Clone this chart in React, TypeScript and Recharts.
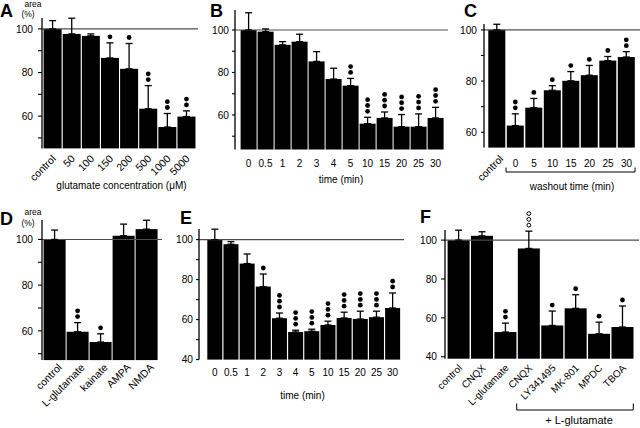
import { Bar, BarChart, ErrorBar, ReferenceLine, XAxis, YAxis } from "recharts";

const FONT = '"Liberation Sans", Arial, Helvetica, sans-serif';

// A: glutamate concentration
const concLabels = ["control", "50", "100", "150", "200", "500", "1000", "5000"];
const concArea = [100, 97.7, 96.8, 86.7, 81.7, 63.4, 55, 59.8];
const concErrTop = [103.8, 104.9, 97.7, 93.6, 93.3, 74, 61.2, 62.4];
const concSig = [0, 0, 0, 1, 1, 2, 2, 2];

// B: time course
const timeLabels = ["0", "0.5", "1", "2", "3", "4", "5", "10", "15", "20", "25", "30"];
const timeAreaB = [100, 99.2, 93, 94.5, 85.2, 76.9, 73.8, 55.9, 58.6, 54.5, 54.5, 58.6];
const timeErrTopB = [108.1, 100.5, 94.5, 98, 89.8, 82, 77.2, 58.9, 61.4, 60.2, 60.5, 63.6];
const timeSigB = [0, 0, 0, 0, 0, 0, 2, 3, 3, 3, 3, 3];

// C: washout
const washLabels = ["control", "0", "5", "10", "15", "20", "25", "30"];
const washArea = [100, 62.6, 69.6, 76.4, 80.1, 82.3, 88, 89.4];
const washErrTop = [102.2, 67.2, 73.2, 78.2, 83.7, 86.1, 89.6, 91.5];
const washSig = [0, 2, 1, 1, 1, 1, 1, 2];

// D: agonists
const agonistLabels = ["control", "L-glutamate", "kainate", "AMPA", "NMDA"];
const agonistArea = [100, 59.6, 55.1, 101.6, 104.5];
const agonistErrTop = [104.1, 63.6, 58.7, 106.7, 108.4];
const agonistSig = [0, 2, 1, 0, 0];

// E: time course (second series)
const timeAreaE = [100, 97.7, 88, 76.5, 60.7, 53.8, 54.2, 57.3, 60.8, 60.3, 61.2, 65.8];
const timeErrTopE = [105.2, 99, 92.8, 82.8, 63.3, 54.7, 55.2, 59.2, 63.7, 64.2, 64.2, 73.3];
const timeSigE = [0, 0, 0, 1, 3, 3, 3, 3, 3, 3, 3, 2];

// F: blockers
const blockerLabels = ["control", "CNQX", "L-glutamate", "CNQX", "LY341495", "MK-801", "MPDC", "TBOA"];
const blockerArea = [100, 102.2, 52.7, 95.7, 56.1, 64.9, 51.8, 55.3];
const blockerErrTop = [105.1, 104.3, 57.3, 104.6, 63.5, 71.9, 57.8, 66.1];
const blockerSig = [0, 0, 2, 3, 1, 1, 1, 1];
const blockerSigOpen = [false, false, false, true, false, false, false, false];

function Panel(p: any) {
  const rows = p.labels.map((name: string, i: number) => ({
    name,
    v: p.area[i],
    e: [0, p.errTop[i] - p.area[i]],
    sig: p.sig[i],
    open: p.open ? p.open[i] : false,
  }));
  const YW = 40;
  const TOP = 26;
  const XH = 66;
  const RIGHT = 2;
  const width = YW + (p.plotRight - p.axisX) + RIGHT;
  const height = TOP + (p.yBottom - p.yTop) + XH;

  const xTick = (t: any) => {
    const rot = p.rotAll || (p.rotFirst && t.index === 0);
    if (rot) {
      return (
        <text
          transform={`translate(${t.x + p.rotDx},${t.y + p.rotDy}) rotate(-45)`}
          textAnchor="end"
          fontSize={p.xFont ?? 10.5}
          fontFamily={FONT}
          fill="#000"
        >
          {t.payload.value}
        </text>
      );
    }
    return (
      <text x={t.x} y={t.y + p.flatDy} textAnchor="middle" fontSize={10} fontFamily={FONT} fill="#000">
        {t.payload.value}
      </text>
    );
  };

  const yTick = (t: any) =>
    p.shown.includes(t.payload.value) ? (
      <text x={t.x} y={t.y} dy="0.36em" textAnchor="end" fontSize={p.yFont ?? 10.2} fontFamily={FONT} fill="#000">
        {t.payload.value}
      </text>
    ) : (
      <g />
    );

  const barShape = (s: any) => {
    const { x, y, width: w, height: h, payload } = s;
    const ppu = h / (payload.v - p.domain[0]);
    const errY = y - payload.e[1] * ppu;
    const cx = x + w / 2;
    const dots = [];
    for (let i = 0; i < payload.sig; i++) {
      dots.push(
        <circle
          key={i}
          cx={cx}
          cy={errY - 6 - i * 5.8}
          r={payload.open ? 1.9 : 2.4}
          fill={payload.open ? "#fff" : "#000"}
          stroke="#000"
          strokeWidth={payload.open ? 1 : 0}
        />
      );
    }
    return (
      <g>
        <rect x={x} y={y} width={w} height={h} fill="#000" />
        {dots}
      </g>
    );
  };

  return (
    <div style={{ position: "absolute", left: p.axisX - YW, top: p.yTop - TOP }}>
      <BarChart
        width={width}
        height={height}
        data={rows}
        margin={{ top: TOP, right: RIGHT, bottom: 0, left: 0 }}
        barCategoryGap={0.6}
      >
        <XAxis
          dataKey="name"
          height={XH}
          axisLine={false}
          tickLine={false}
          tickSize={0}
          tickMargin={0}
          interval={0}
          padding={{ left: p.padL, right: p.padR }}
          tick={xTick}
        />
        <YAxis
          type="number"
          width={YW}
          domain={p.domain}
          ticks={p.ticks}
          interval={0}
          tickSize={p.tickSize}
          tickMargin={p.tickMargin}
          axisLine={{ stroke: "#000", strokeWidth: 1.3 }}
          tickLine={{ stroke: "#000", strokeWidth: 1.1 }}
          tick={yTick}
        />
        <ReferenceLine y={100} stroke="#4d4d4d" strokeWidth={1.1} />
        <Bar dataKey="v" fill="#000" isAnimationActive={false} shape={barShape}>
          <ErrorBar dataKey="e" direction="y" width={3.5} stroke="#000" strokeWidth={1.3} />
        </Bar>
      </BarChart>
    </div>
  );
}

export default function App() {
  const txt = { fontFamily: FONT, fill: "#000" };
  return (
    <div style={{ position: "absolute", left: 0, top: 0, width: 640, height: 428, background: "#fff" }}>
      <Panel
        labels={concLabels} area={concArea} errTop={concErrTop} sig={concSig}
        axisX={42} plotRight={198} yTop={18.4} yBottom={148.8} domain={[45.2, 105]}
        ticks={[50, 60, 70, 80, 90, 100]} shown={[60, 80, 100]} tickSize={4} tickMargin={5}
        padL={1} padR={2} rotAll rotDx={4} rotDy={11}
      />
      <Panel
        labels={timeLabels} area={timeAreaB} errTop={timeErrTopB} sig={timeSigB}
        axisX={235} plotRight={448} yTop={10} yBottom={149.5} domain={[43.75, 109.4]}
        ticks={[50, 60, 70, 80, 90, 100]} shown={[60, 80, 100]} tickSize={3} tickMargin={3}
        padL={5} padR={4} flatDy={17.5}
      />
      <Panel
        labels={washLabels} area={washArea} errTop={washErrTop} sig={washSig}
        axisX={484} plotRight={640} yTop={24.1} yBottom={147.7} domain={[54, 102.3]}
        ticks={[60, 70, 80, 90, 100]} shown={[60, 80, 100]} tickSize={3} tickMargin={4}
        padL={3.7} padR={4.3} rotFirst rotDx={7} rotDy={12} flatDy={19}
      />
      <Panel
        labels={agonistLabels} area={agonistArea} errTop={agonistErrTop} sig={agonistSig}
        axisX={42} plotRight={162} yTop={219.9} yBottom={360} domain={[47.2, 108.5]}
        ticks={[50, 60, 70, 80, 90, 100]} shown={[60, 80, 100]} tickSize={4} tickMargin={5}
        padL={1} padR={4} rotAll rotDx={8} rotDy={8}
      />
      <Panel
        labels={timeLabels} area={timeAreaE} errTop={timeErrTopE} sig={timeSigE}
        axisX={199} plotRight={404} yTop={229.1} yBottom={359.7} domain={[40, 105.3]}
        ticks={[40, 50, 60, 70, 80, 90, 100]} shown={[40, 60, 80, 100]} tickSize={3} tickMargin={3}
        padL={7.7} padR={3.3} flatDy={16}
      />
      <Panel
        labels={blockerLabels} area={blockerArea} errTop={blockerErrTop} sig={blockerSig} open={blockerSigOpen}
        axisX={445} plotRight={639} yTop={229.9} yBottom={358.6} domain={[39, 105.2]}
        ticks={[40, 60, 80, 100]} shown={[40, 60, 80, 100]} tickSize={4} tickMargin={4}
        padL={2} padR={4.7} rotAll rotDx={4} rotDy={10} xFont={10}
      />
      <svg width={640} height={428} style={{ position: "absolute", left: 0, top: 0, pointerEvents: "none" }}>
        <g fontWeight="bold" fontSize={18} {...txt}>
          <text x={0} y={17}>A</text>
          <text x={210} y={17}>B</text>
          <text x={464} y={17}>C</text>
          <text x={0} y={225}>D</text>
          <text x={180} y={224}>E</text>
          <text x={420} y={223}>F</text>
        </g>
        <g fontSize={8.5} {...txt} textAnchor="middle">
          <text x={33} y={7}>area</text>
          <text x={28} y={16.5}>(%)</text>
          <text x={33} y={215}>area</text>
          <text x={28} y={225.5}>(%)</text>
        </g>
        <g fontSize={10} {...txt} textAnchor="middle">
          <text x={121.5} y={189}>glutamate concentration (μM)</text>
          <text x={341} y={183}>time (min)</text>
          <text x={572} y={190}>washout time (min)</text>
          <text x={302.5} y={399}>time (min)</text>
          <text x={579} y={424} fontSize={11}>+ L-glutamate</text>
        </g>
        <g stroke="#000" strokeWidth={1} fill="none">
          <path d="M506,167.5 V172 H635 V167.5" />
          <path d="M516.7,403.5 V410 H633.3 V403.5" />
        </g>
      </svg>
    </div>
  );
}
